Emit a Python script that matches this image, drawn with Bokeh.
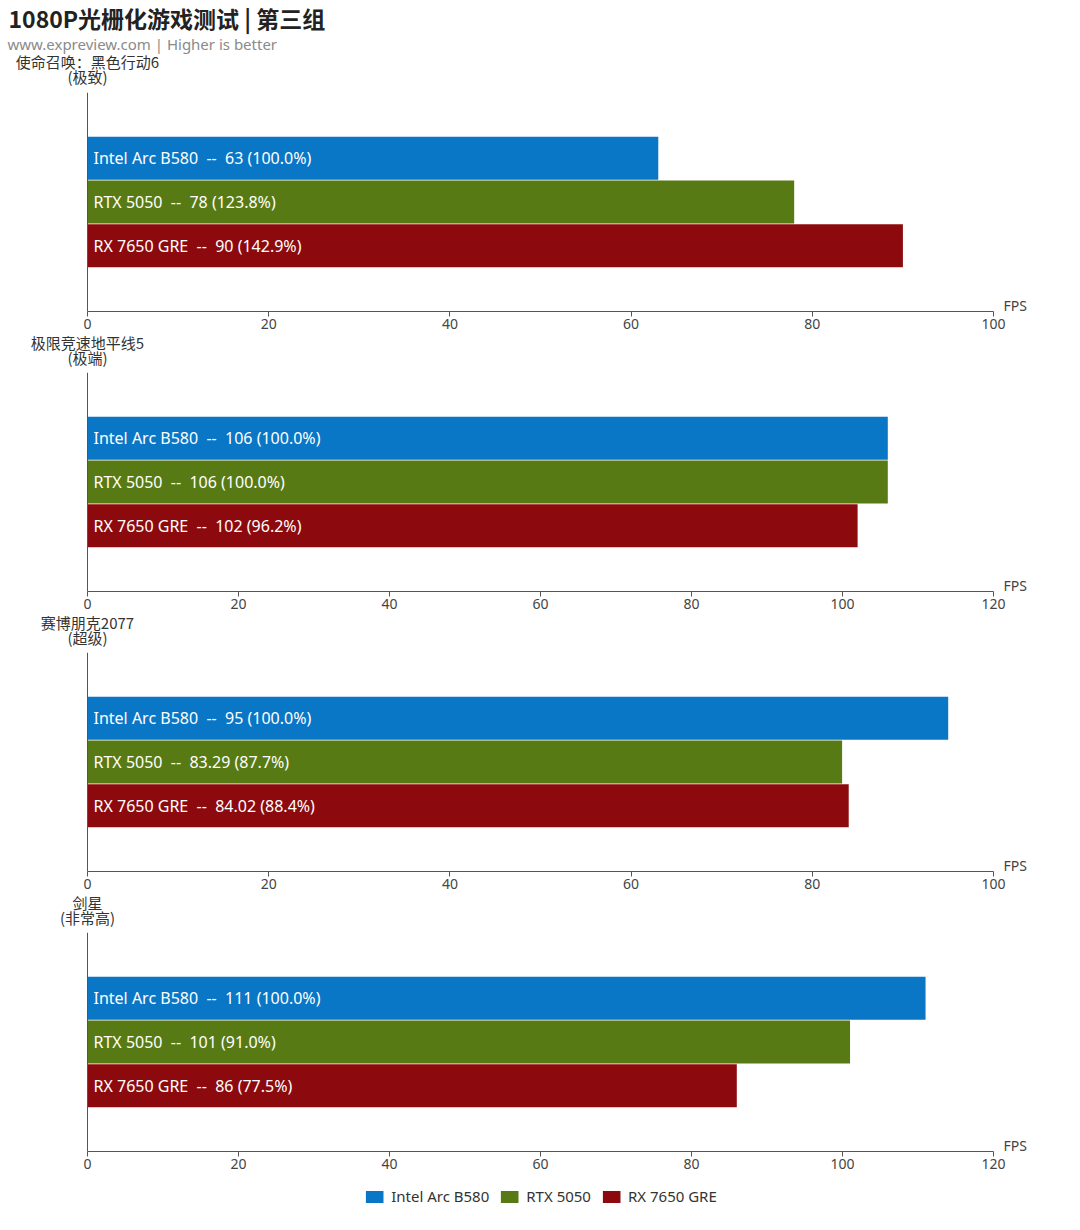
from bokeh.plotting import figure
from bokeh.models import Label, FixedTicker, Legend, LegendItem, Range1d, Span
from bokeh.layouts import column
from bokeh.embed import file_html
from bokeh.resources import INLINE

chart_title = "1080P光栅化游戏测试 | 第三组"
chart_subtitle = "www.expreview.com | Higher is better"
games = ["使命召唤：黑色行动6", "极限竞速地平线5", "赛博朋克2077", "剑星"]
presets = ["(极致)", "(极端)", "(超级)", "(非常高)"]
series = ["Intel Arc B580", "RTX 5050", "RX 7650 GRE"]
intel_fps = [63, 106, 95, 111]
rtx_fps = [78, 106, 83.29, 101]
rx_fps = [90, 102, 84.02, 86]
axis_max = [100, 120, 100, 120]
tick_step = 20
x_unit = "FPS"

colors = ["#0a76c6", "#587a14", "#8c0a0d"]
FONT = "Noto Sans"
CJK = "Noto Sans CJK SC"
W = 1080
LEFT = 87             # pixel position of the value-axis origin
AXIS_W = 906          # pixel length of the value axis
FH = 219
PX_Y = FH / 5.0
AXIS_COLOR = "#555555"


def fmt(v):
    return "%g" % v


def caption_fig(height):
    c = figure(frame_width=W, frame_height=height, output_backend="svg", toolbar_location=None,
               x_range=Range1d(-LEFT, W - LEFT), y_range=Range1d(height, 0),
               x_axis_type=None, y_axis_type=None,
               min_border=0, min_border_left=0, min_border_right=0,
               min_border_top=0, min_border_bottom=0)
    c.outline_line_color = None
    return c


def add_game_caption(c, i, y_game, y_preset):
    c.add_layout(Label(x=0, y=y_game, text=games[i], text_color="#333333",
                       text_font=CJK, text_font_size="15px", text_baseline="middle",
                       text_align="center"))
    c.add_layout(Label(x=0, y=y_preset, text=presets[i], text_color="#333333",
                       text_font=CJK, text_font_size="15px", text_baseline="middle",
                       text_align="center"))


figs = []
for i in range(len(games)):
    xmax = axis_max[i]
    px_per_unit = AXIS_W / xmax

    if i == 0:
        cap = caption_fig(92)
        cap.add_layout(Label(x=-79, y=17, text=chart_title, text_color="#222222",
                             text_font=CJK, text_font_size="23px", text_font_style="bold",
                             text_baseline="middle", text_align="left"))
        cap.add_layout(Label(x=-80, y=43, text=chart_subtitle, text_color="#8a8a8a",
                             text_font=FONT, text_font_size="15px",
                             text_baseline="middle", text_align="left"))
        add_game_caption(cap, i, 61, 76)
    else:
        cap = caption_fig(41)
        add_game_caption(cap, i, 11, 26)
    figs.append(cap)

    p = figure(frame_width=W, frame_height=FH, output_backend="svg", toolbar_location=None,
               x_range=Range1d(-LEFT / px_per_unit, (W - LEFT) / px_per_unit),
               y_range=Range1d(0, 5), y_axis_location=None,
               min_border_left=0, min_border_right=0,
               min_border_top=0, min_border_bottom=20)
    p.outline_line_color = None
    p.xgrid.visible = False
    p.ygrid.visible = False

    # value-axis origin line (the category axis)
    p.add_layout(Span(location=0, dimension="height", line_color=AXIS_COLOR, line_width=1))

    vals = [intel_fps[i], rtx_fps[i], rx_fps[i]]
    base = intel_fps[i]
    for k, (name, v) in enumerate(zip(series, vals)):
        yc = 3.5 - k
        p.hbar(y=[yc], right=[v], left=0, height=0.985, fill_color=colors[k], line_color=None)
        txt = "%s \u00a0-- \u00a0%s (%.1f%%)" % (name, fmt(v), v / base * 100.0)
        p.add_layout(Label(x=0, y=yc, x_offset=6, text=txt, text_color="white",
                           text_font=FONT, text_font_size="16px", text_baseline="middle",
                           text_align="left"))

    p.xaxis.ticker = FixedTicker(ticks=list(range(0, xmax + 1, tick_step)))
    p.xaxis.bounds = (0, xmax)
    p.xaxis.minor_tick_line_color = None
    p.xaxis.major_tick_in = 0
    p.xaxis.major_tick_out = 5
    p.xaxis.major_label_standoff = 2
    p.xaxis.axis_line_color = AXIS_COLOR
    p.xaxis.major_tick_line_color = AXIS_COLOR
    p.xaxis.major_label_text_color = "#444444"
    p.xaxis.major_label_text_font = FONT
    p.xaxis.major_label_text_font_size = "14px"

    p.add_layout(Label(x=xmax, y=-3.0 / PX_Y, x_offset=10, text=x_unit, text_color="#444444",
                       text_font=FONT, text_font_size="14px", text_baseline="bottom",
                       text_align="left"))
    figs.append(p)

# legend strip (proxy glyphs sit outside the visible range; only their swatches show)
lg = figure(frame_width=W, frame_height=50, output_backend="svg", toolbar_location=None,
            x_range=Range1d(0, 1), y_range=Range1d(0, 1),
            x_axis_type=None, y_axis_type=None,
            min_border=0, min_border_left=0, min_border_right=0, min_border_top=0, min_border_bottom=0)
lg.outline_line_color = None
items = []
for k, name in enumerate(series):
    r = lg.hbar(y=[-5], right=[-5], left=-6, height=0.5, fill_color=colors[k], line_color=None)
    items.append(LegendItem(label=name, renderers=[r]))
legend = Legend(items=items, orientation="horizontal", location="center",
                label_text_font=FONT, label_text_font_size="15px", label_text_color="#333333",
                glyph_width=22, glyph_height=15, label_standoff=6, spacing=9,
                padding=4, margin=0, border_line_color=None, background_fill_alpha=0)
lg.add_layout(legend, "center")
figs.append(lg)

layout = column(*figs, spacing=0)
open("out.html", "w").write(file_html(layout, INLINE))
